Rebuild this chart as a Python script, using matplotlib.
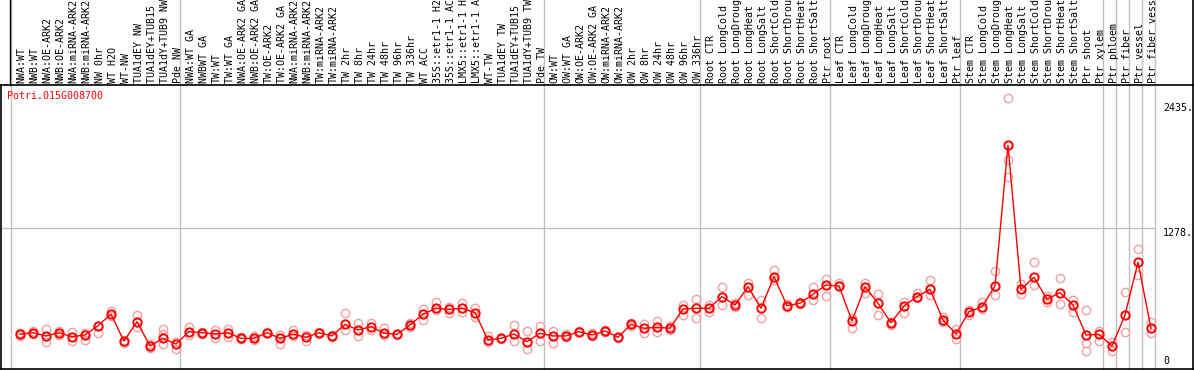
import matplotlib
matplotlib.use("Agg")
import matplotlib.pyplot as plt
import matplotlib.transforms as mtransforms

gene = "Potri.015G008700"

labels = [
    # group 1
    "NWA:WT", "NWB:WT", "NWA:OE-ARK2", "NWB:OE-ARK2", "NWA:miRNA-ARK2",
    "NWB:miRNA-ARK2", "NW 0hr", "WT H2O", "WT-NW", "TUA1dEY NW",
    "TUA1dEY+TUB15 NW", "TUA1dY+TUB9 NW", "Pde NW",
    # group 2
    "NWA:WT GA", "NWBWT GA", "TW:WT", "TW:WT GA", "NWA:OE-ARK2 GA",
    "NWB:OE-ARK2 GA", "TW:OE-ARK2", "TW:OE-ARK2 GA", "NWA:miRNA-ARK2",
    "NWB:miRNA-ARK2", "TW:miRNA-ARK2", "TW:miRNA-ARK2", "TW 2hr", "TW 8hr",
    "TW 24hr", "TW 48hr", "TW 96hr", "TW 336hr", "WT ACC",
    "35S::etr1-1 H2O", "35S::etr1-1 ACC", "LMX5::etr1-1 H2O",
    "LMX5::etr1-1 ACC", "WT-TW", "TUA1dEY TW", "TUA1dEY+TUB15 TW",
    "TUA1dY+TUB9 TW", "Pde TW",
    # group 3
    "OW:WT", "OW:WT GA", "OW:OE-ARK2", "OW:OE-ARK2 GA", "OW:miRNA-ARK2",
    "OW:miRNA-ARK2", "OW 2hr", "OW 8hr", "OW 24hr", "OW 48hr", "OW 96hr",
    "OW 336hr",
    # root
    "Root CTR", "Root LongCold", "Root LongDrought", "Root LongHeat",
    "Root LongSalt", "Root ShortCold", "Root ShortDrought", "Root ShortHeat",
    "Root ShortSalt", "Ptr root",
    # leaf
    "Leaf CTR", "Leaf LongCold", "Leaf LongDrought", "Leaf LongHeat",
    "Leaf LongSalt", "Leaf ShortCold", "Leaf ShortDrought", "Leaf ShortHeat",
    "Leaf ShortSalt", "Ptr leaf",
    # stem
    "Stem CTR", "Stem LongCold", "Stem LongDrought", "Stem LongHeat",
    "Stem LongSalt", "Stem ShortCold", "Stem ShortDrought", "Stem ShortHeat",
    "Stem ShortSalt", "Ptr shoot", "Ptr xylem",
    # wood cells
    "Ptr phloem", "Ptr fiber", "Ptr vessel", "Ptr fiber vessel",
]

group_sizes = [13, 28, 12, 10, 10, 11, 1, 1, 1, 1]

means = [
    293, 308, 278, 308, 271, 287, 373, 479, 231, 410, 185, 256, 204,
    318, 308, 296, 308, 256, 256, 308, 256, 293, 266, 308, 278, 386, 333,
    364, 303, 293, 380, 479, 534, 525, 534, 494, 241, 256, 296, 225, 303,
    278, 278, 318, 287, 324, 266, 386, 349, 358, 349, 528, 534,
    534, 642, 565, 734, 534, 827, 558, 581, 664, 750,
    741, 417, 734, 581, 401, 556, 642, 710, 426, 296,
    503, 549, 741, 2044, 710, 821, 618, 679, 565, 287, 293,
    185, 472, 960, 349,
]

samples = [
    [303, 278], [327, 296], [340, 225], [327, 287], [318, 234], [303, 241],
    [373, 303], [512, 463], [231, 210], [472, 364], [204, 164],
    [340, 296, 204], [225, 155],
    [358, 287], [315, 300], [333, 256], [340, 271], [271, 247], [278, 241],
    [318, 303], [287, 201], [333, 278], [287, 234], [318, 303], [285, 272],
    [488, 333], [401, 278], [395, 333], [349, 287], [298, 288], [395, 364],
    [525, 426], [595, 519], [544, 488], [581, 503], [534, 451], [278, 225],
    [262, 250], [380, 234], [327, 155], [370, 234],
    [327, 216], [296, 271], [322, 312], [303, 275], [330, 318], [272, 260],
    [401, 370], [389, 303], [419, 318], [370, 333], [565, 472], [618, 442],
    [565, 503], [729, 565], [580, 550], [766, 657], [611, 442], [889, 796],
    [570, 545], [595, 570], [729, 611], [803, 648],
    [766, 741], [442, 355], [766, 673], [664, 472], [410, 380], [595, 494],
    [673, 627], [796, 657], [451, 410], [340, 247],
    [519, 472], [595, 525], [882, 657], [2479, 1908, 1753], [759, 667],
    [966, 750], [648, 595], [812, 574], [611, 503], [519, 210, 142],
    [327, 231],
    [225, 142], [682, 318], [1083, 843], [410, 303],
]

axis_labels = ["2435.", "1278.", "0"]
axis_values = [2435, 1278, 0]

grey = "#c0c0c0"
red = "#ff0000"
pink = "#f0a0a0"
mono = "DejaVu Sans Mono"

fig = plt.figure(figsize=(11.94, 3.70), dpi=100)
ax = fig.add_axes([1 / 1194, 1 / 370, 1192 / 1194, 284 / 370])
ax.set_xlim(-1.46, 90.23)
ax.set_ylim(-28, 2602)
ax.set_xticks([])
ax.set_yticks([])
for s in ax.spines.values():
    s.set_color("black")
    s.set_linewidth(1.2)

n = len(means)
xs = list(range(n))

# group separators, running up through the label strip
starts = [0]
for g in group_sizes:
    starts.append(starts[-1] + g)
for st in starts:
    ax.axvline(st - 0.7, ymin=0, ymax=1.3, color=grey, lw=1, clip_on=False, zorder=1)
ax.plot([-0.77, -0.77], [1.0, 1.3], color="black", lw=1,
        transform=mtransforms.blended_transform_factory(ax.transData, ax.transAxes),
        clip_on=False)
ax.plot([1, 1], [1, 1.3], color="black", lw=1.2, transform=ax.transAxes, clip_on=False)

ax.hlines(1278, -1.46, n - 0.7, color=grey, lw=1, zorder=1)

# replicate samples
for i, ss in enumerate(samples):
    ax.plot([i] * len(ss), ss, "o", ms=6, mfc="none", mec=pink, mew=1.0, zorder=2)

# means
ax.plot(xs, means, "-", color=red, lw=1, zorder=3)
ax.plot(xs, means, "o", ms=6, mfc="none", mec=red, mew=1.4, zorder=4)

# column labels
lab_tr = mtransforms.blended_transform_factory(ax.transData, ax.transAxes)
for i, lab in enumerate(labels):
    ax.text(i + 0.12, 1.007, lab, rotation=90, ha="center", va="bottom",
            fontsize=7.2, family=mono, transform=lab_tr, clip_on=False)

ax.text(-1.0, 0.96, gene, color=red, fontsize=7.2, family=mono,
        ha="left", va="center", transform=lab_tr)

for lab, v in zip(axis_labels, axis_values):
    ax.text(87.92, v, lab, fontsize=7.2, family=mono, ha="left",
            va="bottom" if v == 0 else "top")

fig.savefig("out.png", dpi=100)
